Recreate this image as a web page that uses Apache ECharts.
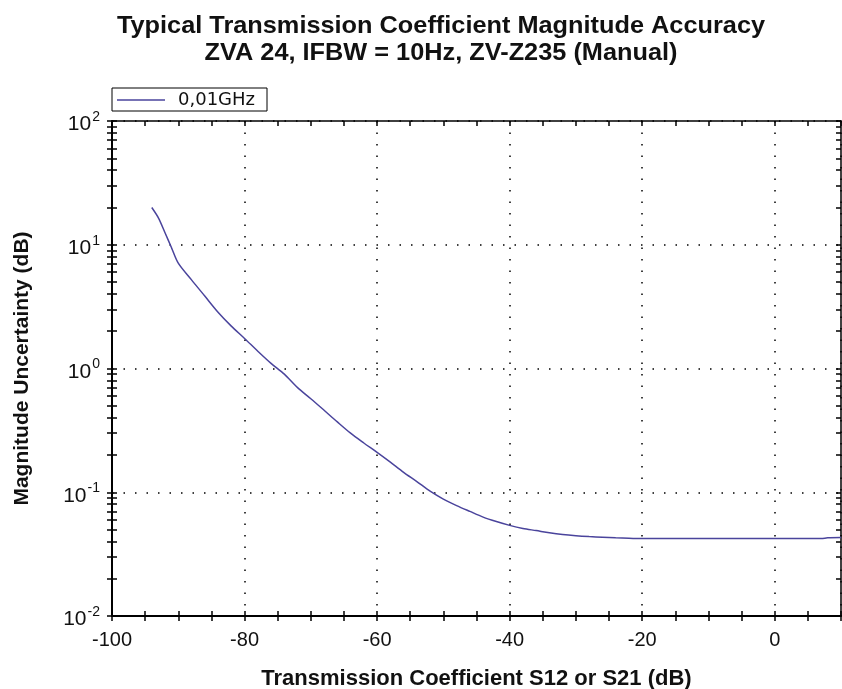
<!DOCTYPE html>
<html>
<head>
<meta charset="utf-8">
<script src="https://cdn.jsdelivr.net/npm/echarts@6/dist/echarts.min.js"></script>
<style>
    html, body {margin: 0; padding: 0; background: #fff;}
    #chart {width: 842px; height: 689px;}
</style>
</head>
<body>
<div id="chart"></div>
<script>
    // Transmission coefficient S12/S21 (dB)
    var s21 = [-94, -93, -92, -91, -90, -88, -86, -84, -82, -80, -78, -76, -74, -72, -70, -68, -66, -64, -62, -60,
        -58, -56, -54, -52, -50, -48, -46, -44, -42, -40, -38, -36, -34, -32, -30, -28, -26, -24, -22, -20,
        -10, 0, 7, 8, 10];
    // Magnitude uncertainty (dB) at 0,01GHz
    var uncertainty = [20, 16.5, 12.5, 9.4, 7.1, 5.2, 3.85, 2.85, 2.2, 1.75, 1.38, 1.1, 0.9, 0.7, 0.57, 0.46, 0.37, 0.3, 0.25, 0.21,
        0.175, 0.145, 0.122, 0.102, 0.088, 0.078, 0.07, 0.063, 0.058, 0.054, 0.051, 0.049, 0.047, 0.0455, 0.0445, 0.0438, 0.0433, 0.0428, 0.0425, 0.0422,
        0.0422, 0.0422, 0.0422, 0.0428, 0.043];
    // log axis tick marks 1..9 per decade
    var yTickValues = [0.01, 0.02, 0.03, 0.04, 0.05, 0.06, 0.07, 0.08, 0.09,
        0.1, 0.2, 0.3, 0.4, 0.5, 0.6, 0.7, 0.8, 0.9,
        1, 2, 3, 4, 5, 6, 7, 8, 9,
        10, 20, 30, 40, 50, 60, 70, 80, 90, 100];
    var titleLines = ['Typical Transmission Coefficient Magnitude Accuracy', 'ZVA 24, IFBW = 10Hz, ZV-Z235 (Manual)'];

    var chart = echarts.init(document.getElementById('chart'));
    var black = '#000';
    var font = 'Liberation Sans';
    var dotted = {color: black, width: 1.5, type: [1.5, 10]};

    function xTickAxis(position, inside, showLine) {
        return {
            type: 'value', min: -100, max: 10, interval: 5, position: position,
            axisLine: {show: showLine, onZero: false, lineStyle: {color: black, width: 1.5}},
            axisTick: {show: true, inside: inside, length: 5, lineStyle: {color: black, width: 1.5}},
            axisLabel: {show: false}, splitLine: {show: false}
        };
    }
    function yTickAxis(position, inside, showLine) {
        return {
            type: 'log', logBase: 10, min: 0.01, max: 100, position: position,
            axisLine: {show: showLine, onZero: false, lineStyle: {color: black, width: 1.5}},
            axisTick: {show: true, inside: inside, length: 5, customValues: yTickValues, lineStyle: {color: black, width: 1.5}},
            axisLabel: {show: false}, splitLine: {show: false}
        };
    }

    chart.setOption({
        animation: false,
        graphic: [{
            type: 'text', x: 441, y: 12.5, scaleX: 1.055,
            style: {
                text: titleLines.join('\n'), x: 0, y: 0,
                font: 'bold 24px "' + font + '"', lineHeight: 27,
                textAlign: 'center', textVerticalAlign: 'top', fill: '#111'
            }
        }],
        legend: {
            left: 112, top: 88, padding: [3, 12, 2, 5],
            borderColor: black, borderWidth: 1, backgroundColor: '#fff',
            icon: 'rect', itemWidth: 48, itemHeight: 1.5,
            textStyle: {fontFamily: 'DejaVu Sans', fontSize: 18, color: '#111', padding: [0, 0, 0, 8]},
            data: ['0,01GHz']
        },
        grid: {left: 112, right: 1, top: 121, bottom: 73, outerBoundsMode: 'none', containLabel: false},
        xAxis: [
            {
                type: 'value', min: -100, max: 10, interval: 20, position: 'bottom',
                name: 'Transmission Coefficient S12 or S21 (dB)', nameLocation: 'middle', nameGap: 52,
                nameTextStyle: {fontFamily: font, fontWeight: 'bold', fontSize: 22, color: '#111'},
                axisLine: {show: true, onZero: false, lineStyle: {color: black, width: 2}},
                axisTick: {show: false},
                axisLabel: {showMaxLabel: false, margin: 14, fontFamily: font, fontSize: 20, color: '#111'},
                splitLine: {show: true, lineStyle: dotted}
            },
            xTickAxis('bottom', false, false),
            xTickAxis('bottom', true, false),
            xTickAxis('top', true, true)
        ],
        yAxis: [
            {
                type: 'log', logBase: 10, min: 0.01, max: 100, position: 'left',
                name: 'Magnitude Uncertainty (dB)', nameLocation: 'middle', nameGap: 79,
                nameTextStyle: {fontFamily: font, fontWeight: 'bold', fontSize: 21, color: '#111'},
                axisLine: {show: true, onZero: false, lineStyle: {color: black, width: 2}},
                axisTick: {show: false},
                axisLabel: {
                    margin: 12,
                    formatter: function (v) {
                        return '{b|10}{s|' + Math.round(Math.log10(v)) + '}';
                    },
                    rich: {
                        b: {fontFamily: font, fontSize: 21, color: '#111', padding: [7, 0, 0, 0]},
                        s: {fontFamily: font, fontSize: 14, color: '#111', padding: [0, 0, 8, 1]}
                    }
                },
                splitLine: {show: true, lineStyle: dotted}
            },
            yTickAxis('left', false, false),
            yTickAxis('left', true, false),
            yTickAxis('right', true, true)
        ],
        series: [
            {
                name: '0,01GHz',
                type: 'line',
                xAxisIndex: 0, yAxisIndex: 0,
                smooth: 0.3,
                showSymbol: false,
                lineStyle: {color: '#4a449c', width: 1.5},
                itemStyle: {color: '#4a449c'},
                data: s21.map(function (x, i) { return [x, uncertainty[i]]; })
            }
        ]
    });
</script>
</body>
</html>
